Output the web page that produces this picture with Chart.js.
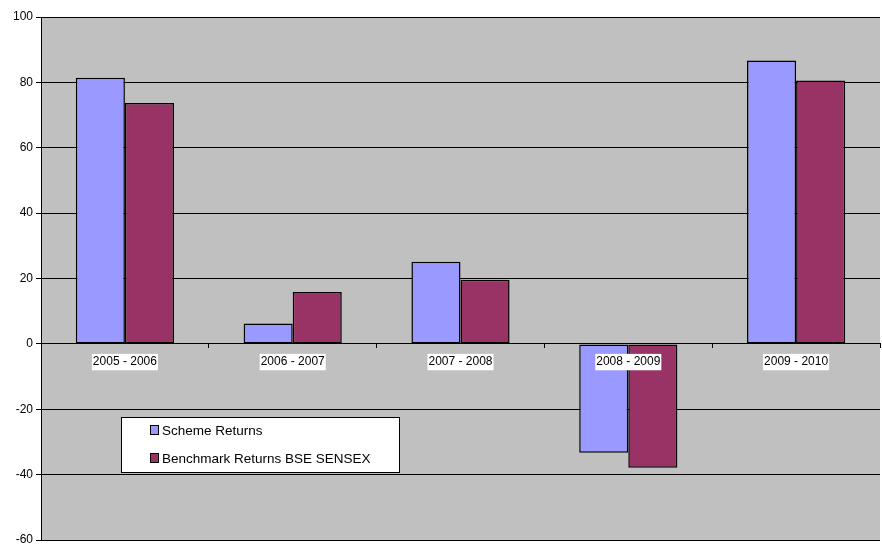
<!DOCTYPE html>
<html>
<head>
<meta charset="utf-8">
<script src="https://cdn.jsdelivr.net/npm/chart.js@4/dist/chart.umd.min.js"></script>
<style>
  html, body { margin: 0; padding: 0; background: #fff; }
  #wrap { width: 882px; height: 544px; }
</style>
</head>
<body>
<div id="wrap"><canvas id="returns_chart"></canvas></div>
<script>
const periods = ['2005 - 2006', '2006 - 2007', '2007 - 2008', '2008 - 2009', '2009 - 2010'];
const schemeReturns = [81.4, 6.2, 25.1, -33.3, 86.7];
const benchmarkReturns = [73.7, 15.9, 19.6, -37.9, 80.6];
const yTicks = [-60, -40, -20, 0, 20, 40, 60, 80, 100];

// grey plot area like the old excel chart
const plotBg = {
  id: 'plotBg',
  beforeDraw(chart) {
    const a = chart.chartArea, ctx = chart.ctx;
    ctx.save();
    ctx.fillStyle = '#C0C0C0';
    ctx.fillRect(a.left, a.top, a.right - a.left, a.bottom - a.top);
    ctx.restore();
  }
};

// legend box sits inside the plot, so draw it by hand
const boxLegend = {
  id: 'boxLegend',
  afterDraw(chart) {
    const ctx = chart.ctx;
    const x = 121.5, y = 417.5, w = 278, h = 55;
    ctx.save();
    ctx.fillStyle = '#fff';
    ctx.strokeStyle = '#000';
    ctx.lineWidth = 1;
    ctx.fillRect(x, y, w, h);
    ctx.strokeRect(x, y, w, h);
    ctx.font = '13.5px "Liberation Sans", Arial, sans-serif';
    ctx.textBaseline = 'middle';
    chart.data.datasets.forEach(function(ds, i) {
      const cy = 431 + i * 28;
      ctx.fillStyle = ds.backgroundColor;
      ctx.fillRect(150.5, cy - 5.5, 8, 9);
      ctx.strokeRect(150.5, cy - 5.5, 8, 9);
      ctx.fillStyle = '#000';
      ctx.fillText(ds.label, 162, cy);
    });
    ctx.restore();
  }
};

const data = {
  labels: periods,
  datasets: [{
    label: 'Scheme Returns',
    data: schemeReturns,
    backgroundColor: '#9999FF',
    borderColor: '#000',
    borderWidth: 1.5,
    borderSkipped: false
  }, {
    label: 'Benchmark Returns BSE SENSEX',
    data: benchmarkReturns,
    backgroundColor: '#993366',
    borderColor: '#000',
    borderWidth: 1.5,
    borderSkipped: false
  }]
};

const config = {
  type: 'bar',
  data: data,
  options: {
    responsive: true,
    maintainAspectRatio: false,
    animation: false,
    layout: { padding: { top: 17, right: 2, bottom: 4, left: 0 } },
    datasets: { bar: { categoryPercentage: 0.585, barPercentage: 1 } },
    plugins: {
      legend: { display: false },
      tooltip: { enabled: false }
    },
    scales: {
      x: {
        position: { y: 0 },
        afterFit: function(s) { s.height = 0; },
        grid: { offset: true, drawOnChartArea: false, tickLength: 4, color: '#000' },
        border: { color: '#000', z: 1 },
        ticks: {
          z: 2,
          color: '#000',
          font: { family: '"Liberation Sans", Arial, sans-serif', size: 12 },
          padding: 7,
          showLabelBackdrop: true,
          backdropColor: '#fff',
          backdropPadding: { top: 1, bottom: 1, left: 1, right: 1 },
          maxRotation: 0
        }
      },
      y: {
        min: -60,
        max: 100,
        afterFit: function(s) { s.width = 41; s.paddingTop = 0; s.paddingBottom = 0; },
        afterBuildTicks: function(s) { s.ticks = yTicks.map(v => ({ value: v })); },
        grid: { color: '#000', lineWidth: 1, tickLength: 5 },
        border: { color: '#000' },
        ticks: {
          color: '#000',
          padding: 3,
          font: { family: '"Liberation Sans", Arial, sans-serif', size: 12 }
        }
      }
    }
  },
  plugins: [plotBg, boxLegend]
};

new Chart(document.getElementById('returns_chart'), config);
</script>
</body>
</html>
